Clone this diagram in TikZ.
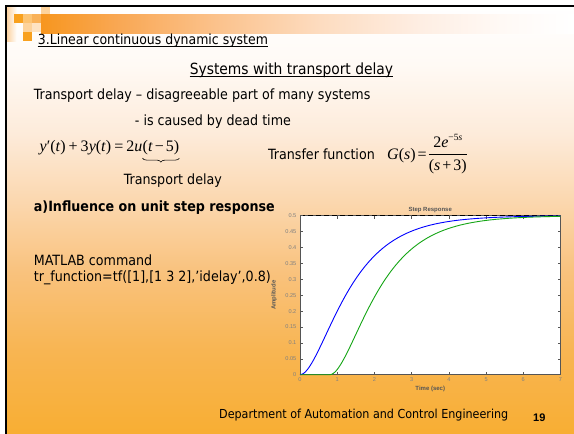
\documentclass[tikz,border=0pt]{standalone}
\usepackage{fontspec}
\setmainfont{DejaVu Sans Condensed}
\newfontfamily\tms{Liberation Serif}
\newfontfamily\arl{Liberation Sans}
\usetikzlibrary{decorations.pathreplacing}

% slide background, white at the top turning orange at the bottom
\definecolor{bgA}{HTML}{FFFFFF}
\definecolor{bgB}{HTML}{FFFAF5}
\definecolor{bgC}{HTML}{FDEBDA}
\definecolor{bgD}{HTML}{FBD7AE}
\definecolor{bgE}{HTML}{F9C27D}
\definecolor{bgF}{HTML}{F8B552}
\definecolor{bgG}{HTML}{F8AE33}
\pgfdeclareverticalshading{slidebg}{100bp}{%
  color(0bp)=(bgG); color(25bp)=(bgG); color(34.7bp)=(bgF); color(43.9bp)=(bgE);
  color(52bp)=(bgD); color(60bp)=(bgC); color(68.1bp)=(bgB); color(75bp)=(bgA);
  color(100bp)=(bgA)}

% title bar fading out to the right
\definecolor{brA}{HTML}{F7961F}
\definecolor{brB}{HTML}{F9A855}
\definecolor{brC}{HTML}{FBC38E}
\definecolor{brD}{HTML}{FDDCC0}
\definecolor{brE}{HTML}{FEEEE3}
\definecolor{brF}{HTML}{FFF9F5}
\pgfdeclarehorizontalshading{barfade}{100bp}{%
  color(0bp)=(brA); color(25bp)=(brA); color(32.4bp)=(brB); color(41.8bp)=(brC);
  color(51.2bp)=(brD); color(60.6bp)=(brE); color(68.1bp)=(brF); color(75bp)=(white);
  color(100bp)=(white)}

% corner squares
\definecolor{sqOr}{HTML}{F8A11F}
\definecolor{sqLt}{HTML}{FCC474}
\definecolor{sqMd}{HTML}{F9B25A}
\definecolor{sqPl}{HTML}{FDD39C}
\definecolor{sqVp}{HTML}{FEE3C3}
\definecolor{stripC}{HTML}{FCD3A2}

% plot colours
\definecolor{grn}{RGB}{20,165,20}
\definecolor{axc}{HTML}{555555}
\definecolor{lblc}{HTML}{808080}

\newcommand\mi[1]{\textit{#1}}

\begin{document}
\begin{tikzpicture}[x=1pt, y=-1pt,
  txt/.style={anchor=base west, inner sep=0, font=\fontsize{14.1}{16}\selectfont},
  eqn/.style={anchor=base west, inner sep=0, font=\tms\fontsize{16}{16}\selectfont},
  uline/.style={line width=0.7pt},
  ticklab/.style={inner sep=0, font=\arl\fontsize{5.6}{6}\selectfont, text=lblc},
  plotlab/.style={inner sep=0, font=\arl\bfseries\fontsize{6}{7}\selectfont, text=axc},
  tickmark/.style={axc, line width=0.5pt}]
\useasboundingbox (0,0) rectangle (574,434);
\fill[white] (0,0) rectangle (574,434);
\shade[shading=slidebg] (5,5) rectangle (574,434);
\shade[shading=barfade] (41,14) rectangle (574,33);

% corner decoration
\shade[left color=stripC, right color=white] (7,7) rectangle (17,41);
\fill[sqOr] (14,14) rectangle (23,23);
\fill[sqLt] (23,14) rectangle (32,23);
\fill[sqMd] (32,14) rectangle (41,23);
\fill[sqPl] (41,7) rectangle (50,14);
\fill[sqPl] (23,23) rectangle (32,32);
\fill[sqVp] (32,23) rectangle (41,32);
\fill[sqOr] (23,32) rectangle (32,41);

% frame
\fill[black] (5,5) rectangle (574,7);
\fill[black] (5,5) rectangle (7,434);

% headings
\node[txt, font=\fontsize{13.9}{16}\selectfont] (hdr) at (37.7,44.5) {3.Linear continuous dynamic system};
\draw[uline] ([yshift=-2pt]hdr.base west) -- ([yshift=-2pt]hdr.base east);
\node[txt, font=\fontsize{15.4}{18}\selectfont] (sub) at (189.6,74) {Systems with transport delay};
\draw[uline] ([yshift=-2pt]sub.base west) -- ([yshift=-2pt]sub.base east);

% body text
\node[txt] (l1) at (33.7,99.5) {Transport delay – disagreeable part of many systems};
\node[txt] (l2) at (134.7,125) {- is caused by dead time};

% differential equation with the delayed input marked by a brace
\node[eqn] (eqL) at (39.5,151)
  {\mi{y}′(\mi{t})\hspace{3pt}+\hspace{3pt}3\mi{y}(\mi{t})\hspace{3pt}=\hspace{3pt}2\mi{u}};
\node[eqn] (eqR) at (eqL.base east)
  {(\mi{t}\hspace{2pt}−\hspace{2pt}5)};
\draw[line width=0.6pt, decorate, decoration={brace, mirror, amplitude=4pt}]
  ([yshift=-3.5pt]eqR.south west) -- ([yshift=-3.5pt]eqR.south east);
\node[txt] (td) at (123.7,184) {Transport delay};

% transfer function
\node[txt] (tfl) at (268,159) {Transfer function};
\node[eqn] (tf) at (387,159)
  {\mi{G}(\mi{s})\hspace{2pt}=\hspace{1pt}$\displaystyle{\hbox{2\mi{e}\raisebox{6.5pt}{\fontsize{9.5}{9.5}\selectfont −5\mi{s}}}\above0.8pt\hbox{(\mi{s}\hspace{2pt}+\hspace{2pt}3)}}$};

\node[txt, font=\bfseries\fontsize{14.1}{16}\selectfont] (infl) at (33.7,211) {a)Influence on unit step response};
\node[txt] (mat) at (33.7,265) {MATLAB command};
\node[txt] (cmd) at (33.7,281) {tr\_function=tf([1],[1 3 2],’idelay’,0.8)};

% footer
\node[txt, font=\fontsize{12.4}{14}\selectfont] (foot) at (219,418) {Department of Automation and Control Engineering};
\node[txt, font=\arl\bfseries\fontsize{11}{13}\selectfont] (pg) at (533,421.5) {19};

% step response plot
\begin{scope}[shift={(300,374.7)}, x=37.2143pt, y=318pt]
  \fill[white] (0,0) rectangle (7,0.5);
  \draw[axc, line width=0.6pt] (0,0) rectangle (7,0.5);
  \draw[black, line width=1pt, dash pattern=on 5pt off 3pt] (0,0.5) -- (7,0.5);
  \foreach \i in {0,...,7} {
    \draw[tickmark] (\i,0) -- ++(0,0.0094);
    \draw[tickmark] (\i,0.5) -- ++(0,-0.0094);
    \node[ticklab, below=2.5pt] (xt\i) at (\i,0) {\i};
  }
  \foreach \k/\lab in {0/0,1/0.05,2/0.1,3/0.15,4/0.2,5/0.25,6/0.3,7/0.35,8/0.4,9/0.45,10/0.5} {
    \draw[tickmark] (0,{\k*0.05}) -- ++(0.08,0);
    \draw[tickmark] (7,{\k*0.05}) -- ++(-0.08,0);
    \node[ticklab, left=3.5pt] (yt\k) at (0,{\k*0.05}) {\lab};
  }
  \draw[blue, line width=0.9pt] plot[domain=0:7, samples=140] (\x,{0.5-exp(-\x)+0.5*exp(-2*\x)});
  \draw[grn, line width=0.9pt] (0,0) -- (0.8,0) -- plot[domain=0.8:7, samples=130] (\x,{0.5-exp(0.8-\x)+0.5*exp(1.6-2*\x)});
  \node[plotlab, above=3pt] (ptitle) at (3.5,0.5) {Step Response};
  \node[plotlab, below=11.5pt] (pxlab) at (3.5,0) {Time (sec)};
  \node[plotlab, rotate=90] (pylab) at (-0.70,0.25) {Amplitude};
\end{scope}
\end{tikzpicture}
\end{document}
